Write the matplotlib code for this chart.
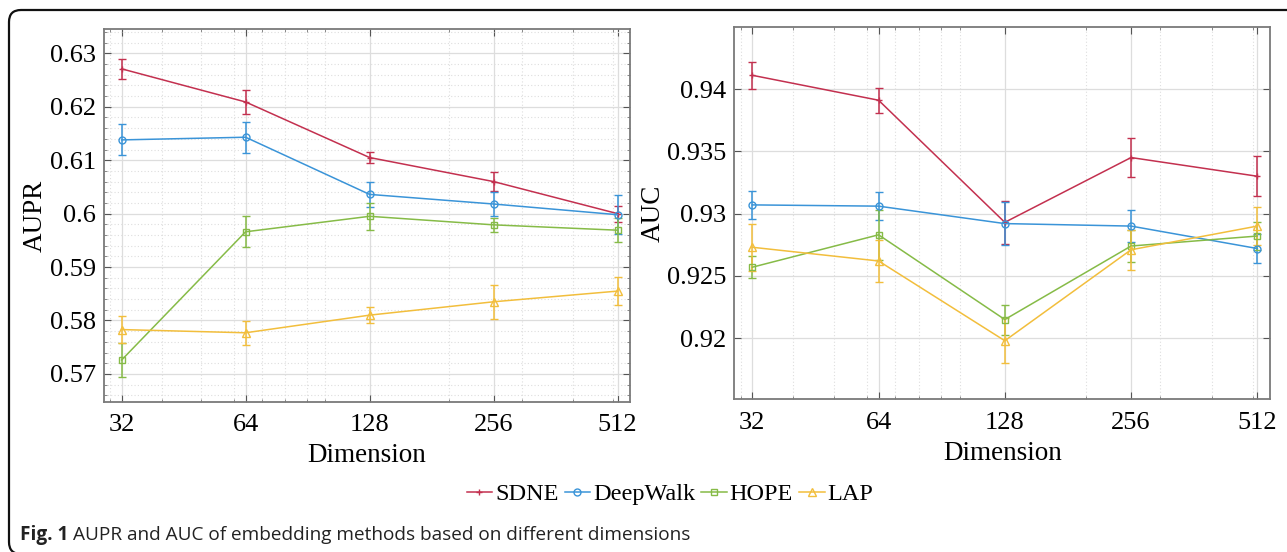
import matplotlib
matplotlib.use('Agg')
import matplotlib.pyplot as plt
import numpy as np
from matplotlib.patches import FancyBboxPatch
from matplotlib.lines import Line2D
from matplotlib.ticker import FixedLocator, LogLocator, NullFormatter, FixedFormatter, MultipleLocator

# ---------------- data ----------------
dims = [32, 64, 128, 256, 512]
methods = ['SDNE', 'DeepWalk', 'HOPE', 'LAP']

aupr_sdne = [0.6271, 0.6209, 0.6105, 0.6060, 0.6000]
aupr_sdne_err = [0.0019, 0.0022, 0.0011, 0.0018, 0.0015]
aupr_deepwalk = [0.6138, 0.6143, 0.6036, 0.6018, 0.5998]
aupr_deepwalk_err = [0.0029, 0.0029, 0.0023, 0.0022, 0.0037]
aupr_hope = [0.5726, 0.5966, 0.5995, 0.5979, 0.5969]
aupr_hope_err = [0.0032, 0.0029, 0.0025, 0.0013, 0.0022]
aupr_lap = [0.5783, 0.5777, 0.5810, 0.5835, 0.5855]
aupr_lap_err = [0.0025, 0.0022, 0.0015, 0.0032, 0.0026]

auc_sdne = [0.9411, 0.9391, 0.9293, 0.9345, 0.9330]
auc_sdne_err = [0.0011, 0.0010, 0.0017, 0.0016, 0.0016]
auc_deepwalk = [0.9307, 0.9306, 0.9292, 0.9290, 0.9272]
auc_deepwalk_err = [0.0011, 0.0011, 0.0017, 0.0013, 0.0012]
auc_hope = [0.9257, 0.9283, 0.9215, 0.9274, 0.9282]
auc_hope_err = [0.0009, 0.0020, 0.0012, 0.0013, 0.0011]
auc_lap = [0.9273, 0.9262, 0.9198, 0.9271, 0.9290]
auc_lap_err = [0.0019, 0.0017, 0.0018, 0.0016, 0.0015]

aupr_ticks = [0.57, 0.58, 0.59, 0.60, 0.61, 0.62, 0.63]
aupr_ticklabels = ['0.57', '0.58', '0.59', '0.6', '0.61', '0.62', '0.63']
auc_ticks = [0.92, 0.925, 0.93, 0.935, 0.94]
auc_ticklabels = ['0.92', '0.925', '0.93', '0.935', '0.94']

caption_bold = 'Fig. 1'
caption_text = 'AUPR and AUC of embedding methods based on different dimensions'

# ---------------- style ----------------
colors = ['#C3304F', '#3A94D8', '#86BB47', '#F2BE3C']
markers = ['+', 'o', 's', '^']
msizes = [5, 5, 4.5, 5.5]

plt.rcParams['font.family'] = ['Liberation Serif', 'DejaVu Serif']
W, H = 1287, 552
fig = plt.figure(figsize=(W / 100, H / 100), dpi=100)

ax1 = fig.add_axes([104 / W, 1 - 401.7 / H, 526 / W, 372.4 / H])
ax2 = fig.add_axes([734.4 / W, 1 - 399.3 / H, 535.6 / W, 372.6 / H])


def draw(ax, series, errs, ylim, yticks, yticklabels, ylabel, yminor):
    for vals, err, c, m, ms in zip(series, errs, colors, markers, msizes):
        ax.errorbar(dims, vals, yerr=err, color=c, marker=m, ms=ms,
                    mfc='none', mec=c, mew=1.0, lw=1.1, elinewidth=1.1,
                    capsize=3.2, capthick=1.1, zorder=3)
    ax.set_xscale('log')
    ax.set_xlim(29, 549)
    ax.set_ylim(*ylim)
    ax.xaxis.set_major_locator(FixedLocator(dims))
    ax.xaxis.set_major_formatter(FixedFormatter([str(d) for d in dims]))
    ax.xaxis.set_minor_locator(LogLocator(base=10, subs=np.arange(1, 10), numticks=30))
    ax.xaxis.set_minor_formatter(NullFormatter())
    ax.yaxis.set_major_locator(FixedLocator(yticks))
    ax.yaxis.set_major_formatter(FixedFormatter(yticklabels))
    if yminor:
        ax.yaxis.set_minor_locator(MultipleLocator(0.002))
    ax.grid(which='major', color='#dddddd', lw=0.9, ls='-', zorder=0)
    ax.grid(which='minor', axis='x', color='#dedede', lw=0.8, ls=(0, (1, 2)), zorder=0)
    if yminor:
        ax.grid(which='minor', axis='y', color='#dedede', lw=0.8, ls=(0, (1, 2)), zorder=0)
    ax.set_axisbelow(True)
    ax.tick_params(which='major', direction='in', top=True, right=True,
                   length=5, width=0.8, color='#555555', labelsize=19, pad=6)
    ax.tick_params(axis='x', which='major', pad=9)
    ax.tick_params(which='minor', direction='in', top=True, right=True,
                   length=2.5, width=0.6, color='#777777')
    if not yminor:
        ax.tick_params(axis='y', which='minor', length=0)
    for s in ax.spines.values():
        s.set_color('#7a7a7a')
        s.set_linewidth(1.3)
    ax.set_xlabel('Dimension', fontsize=19.5, labelpad=5)
    ax.set_ylabel(ylabel, fontsize=19.5, labelpad=1)


draw(ax1, [aupr_sdne, aupr_deepwalk, aupr_hope, aupr_lap],
     [aupr_sdne_err, aupr_deepwalk_err, aupr_hope_err, aupr_lap_err],
     (0.5648, 0.6345), aupr_ticks, aupr_ticklabels, 'AUPR', True)
draw(ax2, [auc_sdne, auc_deepwalk, auc_hope, auc_lap],
     [auc_sdne_err, auc_deepwalk_err, auc_hope_err, auc_lap_err],
     (0.9151, 0.9450), auc_ticks, auc_ticklabels, 'AUC', False)

# legend
handles = [Line2D([], [], color=c, marker=m, ms=ms, mfc='none', mec=c, lw=1.1)
           for c, m, ms in zip(colors, markers, msizes)]
fig.legend(handles, methods, loc='center', bbox_to_anchor=(670 / W, 1 - 494 / H),
           ncol=4, frameon=False, fontsize=17.5, handlelength=1.05, handletextpad=0.12,
           columnspacing=0.25, borderpad=0)

# frame
frame = FancyBboxPatch((9, -2), 1400, H - 10 + 2, boxstyle='round,pad=0,rounding_size=12',
                       transform=None, fill=False, ec='#111111', lw=1.6)
fig.patches.append(frame)

# caption
t1 = fig.text(20 / W, 1 - 535 / H, caption_bold, fontsize=13.7, fontweight='bold',
              family=['Open Sans', 'DejaVu Sans'], va='center', ha='left', color='#222222')
fig.canvas.draw()
bb = t1.get_window_extent()
fig.text((bb.x1 + 5) / W, 1 - 535 / H, caption_text, fontsize=13.7,
         family=['Open Sans', 'DejaVu Sans'], va='center', ha='left', color='#222222')

fig.savefig('out.png', dpi=100)
